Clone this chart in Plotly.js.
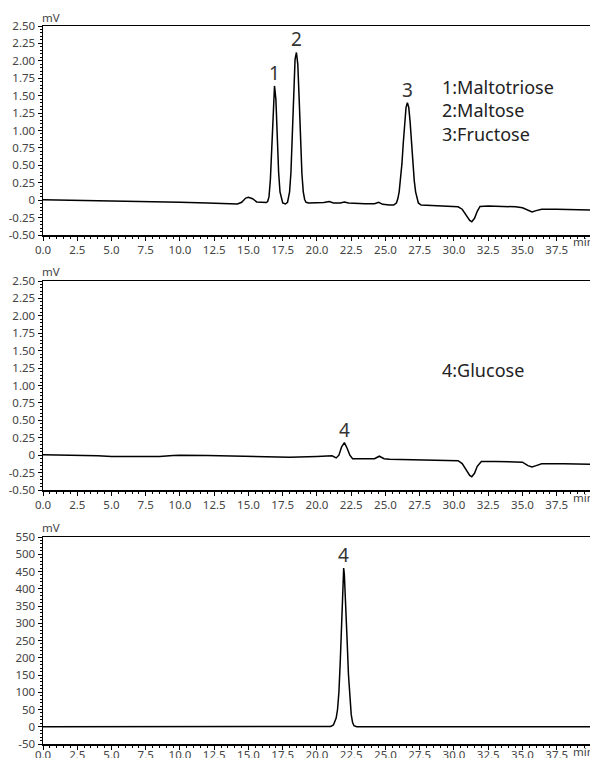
<!DOCTYPE html>
<html>
<head>
<meta charset="utf-8">
<script src="https://cdn.plot.ly/plotly-3.0.1.min.js"></script>
<style>html,body{margin:0;padding:0;background:#fff;}#chart{width:590px;height:758px;}</style>
</head>
<body>
<div id="chart"></div>
<script>
// Panel 1: standard mix (mV)
const t1 = [0,2,4,6,8,10,12,13.5,14.2,14.5,14.8,15.0,15.3,15.6,16.0,16.3,16.4,16.5,16.6,16.7,16.8,16.9,17.0,17.1,17.2,17.3,17.4,17.5,17.7,17.85,17.9,18.0,18.1,18.2,18.3,18.4,18.5,18.6,18.7,18.8,18.9,19.0,19.1,19.2,19.4,20.5,20.9,21.2,21.7,22.0,22.3,23.5,24.2,24.5,24.8,25.3,25.6,25.8,25.9,26.0,26.1,26.2,26.3,26.4,26.5,26.6,26.7,26.8,26.9,27.0,27.1,27.2,27.3,27.4,27.6,28.5,29.5,30.3,30.6,30.9,31.15,31.3,31.5,31.7,31.9,32.5,33.5,34.5,35.0,35.4,35.7,36.0,36.4,37.5,39,40];
const v1 = [0.005,0.0,-0.005,-0.015,-0.02,-0.03,-0.04,-0.05,-0.055,-0.03,0.03,0.04,0.02,-0.025,-0.03,-0.035,-0.02,0.05,0.30,0.80,1.40,1.64,1.45,0.90,0.40,0.12,0.01,-0.04,-0.055,-0.03,0.02,0.12,0.40,0.95,1.60,2.02,2.12,1.95,1.45,0.85,0.38,0.12,0.01,-0.03,-0.04,-0.035,-0.02,-0.04,-0.04,-0.025,-0.04,-0.05,-0.05,-0.03,-0.06,-0.07,-0.07,-0.04,0.02,0.12,0.28,0.52,0.82,1.12,1.33,1.40,1.33,1.12,0.82,0.52,0.28,0.12,0.02,-0.04,-0.07,-0.075,-0.085,-0.095,-0.13,-0.22,-0.29,-0.31,-0.26,-0.16,-0.09,-0.085,-0.09,-0.095,-0.11,-0.15,-0.17,-0.15,-0.13,-0.13,-0.135,-0.14];

// Panel 2: sample (mV)
const t2 = [0,2,4,5,7,8.5,9.5,10,12,15,18,20,21.1,21.4,21.6,21.8,22.0,22.2,22.4,22.6,23.5,24.2,24.55,24.9,25.3,27,29,30.3,30.6,30.9,31.15,31.3,31.5,31.7,32.0,33,35.0,35.4,35.7,36.0,36.4,38,40];
const v2 = [0.005,0.0,-0.01,-0.02,-0.025,-0.02,-0.005,0.0,-0.005,-0.02,-0.03,-0.02,-0.01,-0.04,0.0,0.12,0.18,0.10,0.0,-0.05,-0.055,-0.05,-0.015,-0.05,-0.06,-0.065,-0.07,-0.08,-0.12,-0.22,-0.29,-0.31,-0.26,-0.16,-0.09,-0.09,-0.10,-0.15,-0.17,-0.15,-0.125,-0.125,-0.13];

// Panel 3: glucose (mV)
const t3 = [0,20.5,21.0,21.2,21.4,21.5,21.6,21.7,21.8,21.9,21.95,22.0,22.1,22.2,22.3,22.4,22.5,22.6,22.7,22.9,30.8,31.2,31.6,40];
const v3 = [0,0,1,5,25,50,100,190,300,420,460,440,360,250,150,80,35,12,3,0,0,-1.5,0,0];

const xTickVals = [0,2.5,5,7.5,10,12.5,15,17.5,20,22.5,25,27.5,30,32.5,35,37.5];
const xTickText = ["0.0","2.5","5.0","7.5","10.0","12.5","15.0","17.5","20.0","22.5","25.0","27.5","30.0","32.5","35.0","37.5"];
const yTickVals12 = [2.5,2.25,2.0,1.75,1.5,1.25,1.0,0.75,0.5,0.25,0,-0.25,-0.5];
const yTickText12 = ["2.50","2.25","2.00","1.75","1.50","1.25","1.00","0.75","0.50","0.25","0","-0.25","-0.50"];
const yTickVals3 = [550,500,450,400,350,300,250,200,150,100,50,0,-50];
const yTickText3 = ["550","500","450","400","350","300","250","200","150","100","50","0","-50"];

const peakLabels1 = ["1","2","3"];
const peakX1 = [16.9,18.5,26.6];
const peakY1 = [1.64,2.12,1.40];
const legend1 = ["1:Maltotriose","2:Maltose","3:Fructose"];
const legend2 = ["4:Glucose"];
const peakLabel4 = "4";

const FONT = "Noto Sans, sans-serif";
const lineStyle = {color:"#000", width:1.5};

const traces = [
  {x:t1, y:v1, xaxis:"x", yaxis:"y", mode:"lines", line:lineStyle, hoverinfo:"skip"},
  {x:t2, y:v2, xaxis:"x2", yaxis:"y2", mode:"lines", line:lineStyle, hoverinfo:"skip"},
  {x:t3, y:v3, xaxis:"x3", yaxis:"y3", mode:"lines", line:lineStyle, hoverinfo:"skip"}
];

function xa(anchor, standoff){
  return {anchor:anchor, domain:[0,1], range:[0,39.93], tickmode:"array", tickvals:xTickVals, ticktext:xTickText,
    showline:true, linecolor:"#000", linewidth:1.5, mirror:true, ticks:"outside", ticklen:4, tickcolor:"#000", tickwidth:1,
    minor:{tickmode:"linear", tick0:0, dtick:0.5, ticks:"outside", ticklen:2, tickcolor:"#000", tickwidth:1},
    showgrid:false, zeroline:false, tickfont:{family:FONT, size:11.5, color:"#444"}, ticklabelstandoff:standoff, fixedrange:true};
}
function ya(anchor, dom, rng, tv, tt, mdt){
  return {anchor:anchor, domain:dom, range:rng, tickmode:"array", tickvals:tv, ticktext:tt,
    showline:true, linecolor:"#000", linewidth:1.5, mirror:false, ticks:"outside", ticklen:4, tickcolor:"#000", tickwidth:1,
    minor:{tickmode:"linear", tick0:0, dtick:mdt, ticks:"outside", ticklen:2, tickcolor:"#000", tickwidth:1},
    showgrid:false, zeroline:false, tickfont:{family:FONT, size:11.5, color:"#444"}, ticklabelstandoff:0, fixedrange:true};
}

const annotations = [];
for (let i=0;i<peakLabels1.length;i++){
  annotations.push({xref:"x", yref:"y", x:peakX1[i], y:peakY1[i], text:peakLabels1[i], showarrow:false, yanchor:"bottom", yshift:-2,
    font:{family:FONT, size:19, color:"#333"}});
}
annotations.push({xref:"paper", yref:"paper", x:(440-43)/547, y:1-110.5/758, text:legend1.join("<br>"), showarrow:false,
  xanchor:"left", yanchor:"middle", align:"left", font:{family:FONT, size:18, color:"#222"}});
annotations.push({xref:"paper", yref:"paper", x:(440-43)/547, y:1-370/758, text:legend2[0], showarrow:false,
  xanchor:"left", yanchor:"middle", font:{family:FONT, size:18, color:"#222"}});
annotations.push({xref:"x2", yref:"y2", x:22.0, y:0.18, text:peakLabel4, showarrow:false, yanchor:"bottom", yshift:-2, font:{family:FONT, size:19, color:"#333"}});
annotations.push({xref:"x3", yref:"y3", x:21.95, y:460, text:peakLabel4, showarrow:false, yanchor:"bottom", yshift:-2, font:{family:FONT, size:19, color:"#333"}});
// "mV" unit labels and "min" axis unit
[17, 272, 527].forEach(py=>annotations.push({xref:"paper", yref:"paper", x:(40-43)/547, y:1-py/758, text:"mV", showarrow:false,
  xanchor:"left", yanchor:"middle", font:{family:FONT, size:11.5, color:"#444"}}));
[242, 497, 751].forEach(py=>annotations.push({xref:"paper", yref:"paper", x:(571-43)/547, y:1-py/758, text:"min", showarrow:false,
  xanchor:"left", yanchor:"middle", font:{family:FONT, size:11.5, color:"#444"}}));

const layout = {
  width:590, height:758, margin:{l:43, r:0, t:0, b:0}, showlegend:false,
  paper_bgcolor:"#fff", plot_bgcolor:"#fff",
  xaxis: xa("y", 0), xaxis2: xa("y2", 0), xaxis3: xa("y3", -4),
  yaxis: ya("x", [1-235/758, 1-26/758], [-0.5,2.5], yTickVals12, yTickText12, 0.05),
  yaxis2: ya("x2", [1-490/758, 1-281/758], [-0.5,2.5], yTickVals12, yTickText12, 0.05),
  yaxis3: ya("x3", [1-744/758, 1-537/758], [-50,550], yTickVals3, yTickText3, 10),
  annotations: annotations
};
Plotly.newPlot("chart", traces, layout, {displayModeBar:false, staticPlot:true});
</script>
</body>
</html>
